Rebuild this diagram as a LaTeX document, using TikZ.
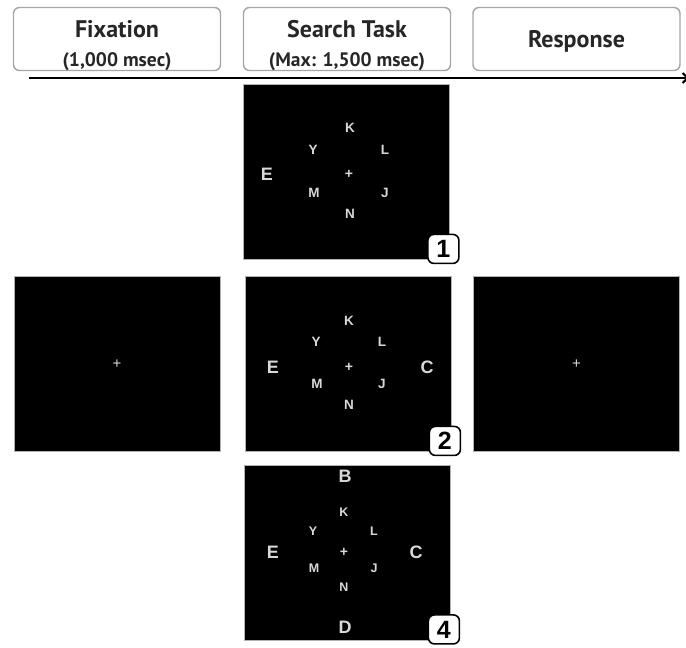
\documentclass[tikz,border=0pt]{standalone}
\usepackage{fontspec}
\setmainfont{PT Sans}
\newfontfamily\letras{Liberation Sans}
\usetikzlibrary{arrows.meta}
\tikzset{
  etapa/.style={draw=gray!70,line width=1.4pt,rounded corners=6pt,minimum width=207pt,minimum height=63pt,inner sep=0pt},
  titulo/.style={anchor=base,inner sep=0pt,text=black!85,font=\bfseries\fontsize{24pt}{26pt}\selectfont},
  subtitulo/.style={anchor=base,inner sep=0pt,text=black!85,font=\bfseries\fontsize{19.5pt}{21pt}\selectfont},
  pantalla/.style={draw=gray!60,line width=0.8pt,fill=black,minimum width=206pt,minimum height=175pt,inner sep=0pt},
  insignia/.style={draw,fill=white,line width=1.6pt,rounded corners=6pt,minimum width=31pt,minimum height=29pt,inner sep=0pt,font=\letras\bfseries\fontsize{25pt}{25pt}\selectfont},
  pics/letras/.style={
    code={
      \node[inner sep=0pt,text=white!85!black,font=\letras\bfseries\fontsize{14pt}{14pt}\selectfont] (-mas) {+};
      \foreach \l/\x/\y/\s in {#1}
        \node[inner sep=0pt,text=white!85!black,font=\letras\bfseries\fontsize{\s}{\s}\selectfont] (-\l) at (\x,\y) {\l};
    }
  }
}

\begin{document}
\begin{tikzpicture}[x=1pt,y=-1pt]
        \useasboundingbox (0,0) rectangle (686,648);
        % cabecera
        \node[etapa] (fix) at (117,39) {};
        \node[titulo] (fix-t) at (117,37.5) {Fixation};
        \node[subtitulo] (fix-s) at (117,66) {(1,000 msec)};
        \node[etapa] (bus) at (347,39) {};
        \node[titulo] (bus-t) at (347,37.5) {Search Task};
        \node[subtitulo] (bus-s) at (347,66) {(Max: 1,500 msec)};
        \node[etapa] (res) at (576.5,39) {};
        \node[titulo] (res-t) at (576.5,47) {Response};
        \coordinate (ini) at (29,78);
        \coordinate (fin) at (689,78);
        \draw[line width=2pt,-{Straight Barb[length=5pt,width=10pt]}] (ini) -- (fin);
        % pantallas
        \node[pantalla] (p0) at (117,364) {};
        \node[pantalla] (p1) at (346.5,172) {};
        \node[pantalla] (p2) at (348,364) {};
        \node[pantalla] (p4) at (347,552.5) {};
        \node[pantalla] (p5) at (576.5,364) {};
        \node[text=white!85!black,font=\letras\fontsize{15pt}{15pt}\selectfont] (p0-mas) at (p0) {+};
        \node[text=white!85!black,font=\letras\fontsize{15pt}{15pt}\selectfont] (p5-mas) at (p5) {+};
        \pic (l1) at (349,174) {letras={K/1/-46/13.5,Y/-36/-24/13.5,L/36/-24/13.5,E/-82/0/18,M/-35/19/13.5,J/36/19/13.5,N/1/40/13.5}};
        \pic (l2) at (349,367) {letras={K/0/-46/13.5,Y/-33/-25/13.5,L/33/-25/13.5,E/-76/0/18,C/78/0/18,M/-32/17/13.5,J/33/17/13.5,N/0/38/13.5}};
        \pic (l4) at (344,552) {letras={B/1/-76/18,K/0/-40/12.5,Y/-31/-21/12.5,L/30/-21/12.5,E/-71/0/18,C/72/0/18,M/-30/16/12.5,J/30/16/12.5,N/0/35/12.5,D/1/75/18}};
        \node[insignia,xshift=-6.5pt,yshift=11pt] (n1) at (p1.south east) {1};
        \node[insignia,xshift=-6.5pt,yshift=11pt] (n2) at (p2.south east) {2};
        \node[insignia,xshift=-6.5pt,yshift=11pt] (n4) at (p4.south east) {4};
\end{tikzpicture}
\end{document}
